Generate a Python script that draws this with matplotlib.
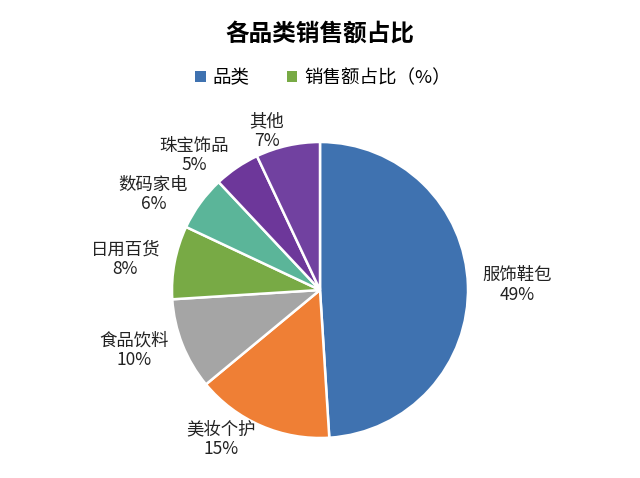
import matplotlib.pyplot as plt
from matplotlib.patches import Patch

plt.rcParams['font.family'] = ['Noto Sans CJK SC', 'DejaVu Sans']

# 数据
categories = ['服饰鞋包', '美妆个护', '食品饮料', '日用百货', '数码家电', '珠宝饰品', '其他']
shares = [49, 15, 10, 8, 6, 5, 7]
colors = ['#3f72b0', '#ef7f35', '#a5a5a5', '#78aa45', '#5bb599', '#6d379a', '#7141a0']
legend_labels = ['品类', '销售额占比（%）']

fig = plt.figure(figsize=(6.4, 4.78), dpi=100)
fig.patch.set_facecolor('white')

# 饼图区域：中心约 (320, 290) px，半径约 148 px
r_px = 148
ax = fig.add_axes([(320 - r_px) / 640, (478 - 290 - r_px) / 478, 2 * r_px / 640, 2 * r_px / 478])
labels = [f'{c}\n{v}%' for c, v in zip(categories, shares)]
wedges, texts = ax.pie(shares, labels=labels, colors=colors, startangle=90, counterclock=False,
                       labeldistance=1.1,
                       wedgeprops=dict(edgecolor='white', linewidth=1.8),
                       textprops=dict(fontsize=12.5, color='#222222', multialignment='center',
                                      linespacing=1.1))
ax.set_xlim(-1, 1)
ax.set_ylim(-1, 1)
ax.set_aspect('equal')

fig.text(0.5, 0.93, '各品类销售额占比', ha='center', va='center', fontsize=17, fontweight='bold')

handles = [Patch(facecolor=colors[0]), Patch(facecolor=colors[3])]
fig.legend(handles, legend_labels, loc='center', bbox_to_anchor=(0.505, 0.837), ncol=2,
           frameon=False, fontsize=13.3, handlelength=0.55, handleheight=0.55,
           handletextpad=0.4, columnspacing=2.0)

plt.savefig('out.png', dpi=100)
